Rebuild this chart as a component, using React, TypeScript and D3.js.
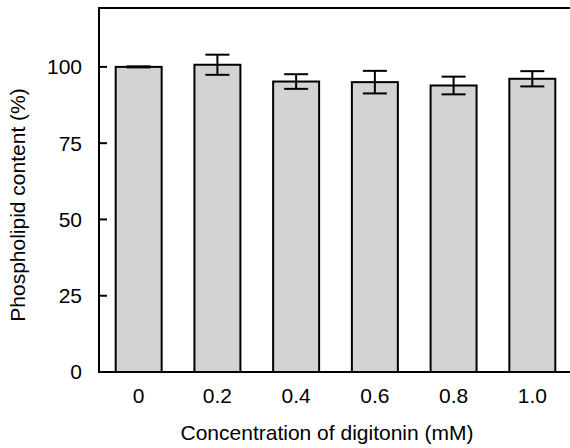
import * as d3 from "d3";

// concentration of digitonin (mM)
const categories = ["0", "0.2", "0.4", "0.6", "0.8", "1.0"];
// phospholipid content (%) and standard error
const means = [100, 100.7, 95.2, 95.0, 93.9, 96.1];
const errors = [0, 3.3, 2.4, 3.7, 2.9, 2.5];
const yTicks = [0, 25, 50, 75, 100];

const WIDTH = 570;
const HEIGHT = 448;
const MARGIN = { top: 8, right: 0, bottom: 76, left: 99 };
const FONT = "Liberation Sans, Arial, Helvetica, sans-serif";

export default function App() {
  const x = d3
    .scaleBand<string>()
    .domain(categories)
    .range([MARGIN.left, 572])
    .paddingInner(0.416)
    .paddingOuter(0.212);

  const y = d3
    .scaleLinear()
    .domain([0, 119.3])
    .range([HEIGHT - MARGIN.bottom, MARGIN.top]);

  const bottom = y(0);
  const capHalf = 12;

  return (
    <svg
      width={WIDTH}
      height={HEIGHT}
      style={{ position: "absolute", left: 0, top: 0, background: "#fff" }}
      fontFamily={FONT}
    >
      {/* bars */}
      {categories.map((c, i) => (
        <rect
          key={c}
          x={x(c)}
          y={y(means[i])}
          width={x.bandwidth()}
          height={bottom - y(means[i])}
          fill="#d3d3d3"
          stroke="#000"
          strokeWidth={2}
        />
      ))}

      {/* error bars */}
      {categories.map((c, i) => {
        const cx = (x(c) || 0) + x.bandwidth() / 2;
        const hi = y(means[i] + errors[i]);
        const lo = y(means[i] - errors[i]);
        return (
          <g key={"e" + c} stroke="#000" strokeWidth={2}>
            <line x1={cx} x2={cx} y1={hi} y2={lo} />
            <line x1={cx - capHalf} x2={cx + capHalf} y1={hi} y2={hi} strokeWidth={errors[i] === 0 ? 3 : 2} />
            <line x1={cx - capHalf} x2={cx + capHalf} y1={lo} y2={lo} />
          </g>
        );
      })}

      {/* frame: left, bottom, top */}
      <line x1={MARGIN.left} x2={MARGIN.left} y1={MARGIN.top - 1} y2={bottom + 1} stroke="#000" strokeWidth={2} />
      <line x1={MARGIN.left - 1} x2={WIDTH} y1={bottom} y2={bottom} stroke="#000" strokeWidth={2} />
      <line x1={MARGIN.left - 1} x2={WIDTH} y1={MARGIN.top} y2={MARGIN.top} stroke="#000" strokeWidth={2} />

      {/* y ticks (inward) and labels */}
      {yTicks.map((t) => (
        <g key={"t" + t}>
          {t > 0 && (
            <line x1={MARGIN.left} x2={MARGIN.left + 8} y1={y(t)} y2={y(t)} stroke="#000" strokeWidth={2} />
          )}
          <text x={82} y={y(t)} dy="0.35em" textAnchor="end" fontSize={21} fill="#000">
            {t}
          </text>
        </g>
      ))}

      {/* x tick labels */}
      {categories.map((c) => (
        <text
          key={"x" + c}
          x={(x(c) || 0) + x.bandwidth() / 2}
          y={403}
          textAnchor="middle"
          fontSize={21}
          fill="#000"
        >
          {c}
        </text>
      ))}

      {/* axis titles */}
      <text x={327} y={440} textAnchor="middle" fontSize={21} fill="#000">
        Concentration of digitonin (mM)
      </text>
      <text
        transform={`translate(25,${(MARGIN.top + bottom) / 2 + 15}) rotate(-90)`}
        textAnchor="middle"
        fontSize={21}
        fill="#000"
      >
        Phospholipid content (%)
      </text>
    </svg>
  );
}
